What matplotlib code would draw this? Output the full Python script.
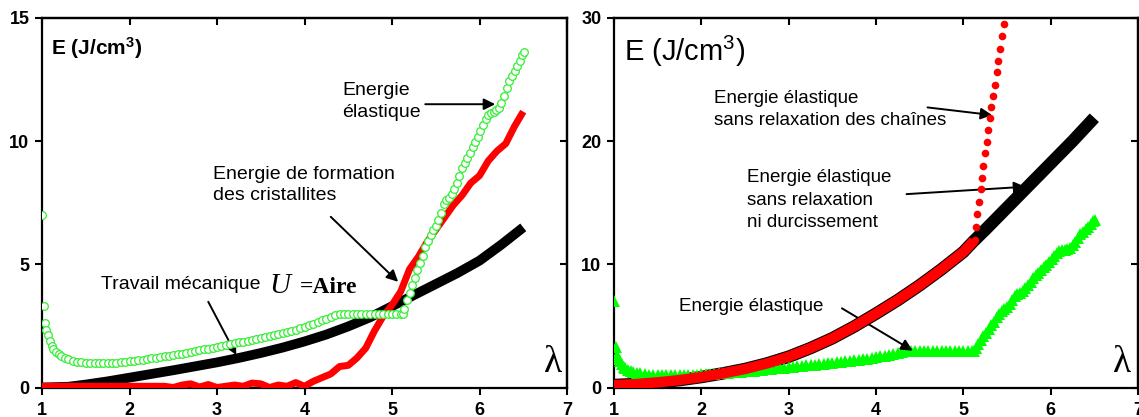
import matplotlib
matplotlib.use('Agg')
import matplotlib.pyplot as plt

plt.rcParams['font.family'] = ['Liberation Sans', 'DejaVu Sans']
plt.rcParams['mathtext.fontset'] = 'custom'
plt.rcParams['mathtext.rm'] = 'Liberation Sans'
plt.rcParams['mathtext.it'] = 'Liberation Sans:italic'
plt.rcParams['mathtext.bf'] = 'Liberation Sans:bold'

# ---------------- data ----------------
x_ticks = [1, 2, 3, 4, 5, 6, 7]
left_yticks = [0, 5, 10, 15]
right_yticks = [0, 10, 20, 30]

# Travail mécanique (left, black)
work_x = [1.0, 1.3, 1.5, 1.75, 2.0, 2.25, 2.5, 2.75, 3.0, 3.25, 3.5, 3.75,
          4.0, 4.25, 4.5, 4.75, 5.0, 5.25, 5.5, 5.75, 6.0, 6.25, 6.5]
work_y = [0.0, 0.03, 0.12, 0.25, 0.40, 0.55, 0.70, 0.86, 1.02, 1.2, 1.4, 1.62,
          1.87, 2.15, 2.48, 2.85, 3.3, 3.75, 4.2, 4.65, 5.15, 5.8, 6.5]

# Energie de formation des cristallites (left, red)
cryst_x = [1.0, 1.5, 2.0, 2.4, 2.5, 2.6, 2.7, 2.8, 2.9, 3.0, 3.1, 3.2, 3.3, 3.4, 3.5,
           3.6, 3.7, 3.8, 3.9, 4.0, 4.1, 4.2, 4.3, 4.4, 4.5, 4.6, 4.7, 4.8, 4.9, 5.0,
           5.1, 5.2, 5.3, 5.4, 5.5, 5.6, 5.7, 5.8, 5.9, 6.0, 6.1, 6.2, 6.3, 6.4, 6.5]
cryst_y = [0.05, 0.05, 0.05, 0.05, 0.0, 0.1, 0.15, 0.02, 0.12, 0.0, 0.05, 0.1, 0.05, 0.18, 0.15,
           0.0, 0.1, 0.05, 0.2, 0.05, 0.25, 0.4, 0.55, 0.85, 0.9, 1.2, 1.6, 2.3, 2.9, 3.35,
           3.9, 4.8, 5.3, 5.9, 6.4, 6.9, 7.4, 7.8, 8.3, 8.6, 9.2, 9.6, 9.9, 10.6, 11.2]

# Energie élastique (both panels, green)
elastic_x = [1.00, 1.02, 1.035, 1.05, 1.07, 1.09, 1.11, 1.13, 1.16, 1.19,
             1.22, 1.26, 1.30, 1.35, 1.40, 1.45, 1.50, 1.55, 1.60, 1.65,
             1.70, 1.75, 1.80, 1.85, 1.90, 1.95, 2.00, 2.05, 2.10, 2.15,
             2.20, 2.25, 2.30, 2.35, 2.40, 2.45, 2.50, 2.55, 2.60, 2.65,
             2.70, 2.75, 2.80, 2.85, 2.90, 2.95, 3.00, 3.05, 3.10, 3.15,
             3.20, 3.25, 3.30, 3.35, 3.40, 3.45, 3.50, 3.55, 3.60, 3.65,
             3.70, 3.75, 3.80, 3.85, 3.90, 3.95, 4.00, 4.05, 4.10, 4.15,
             4.20, 4.25, 4.30, 4.35, 4.40, 4.45, 4.50, 4.55, 4.60, 4.65,
             4.70, 4.75, 4.80, 4.85, 4.90, 4.95, 5.00, 5.05, 5.10, 5.12,
             5.14, 5.17, 5.20, 5.23, 5.26, 5.29, 5.32, 5.35, 5.38, 5.41,
             5.44, 5.47, 5.50, 5.53, 5.56, 5.59, 5.62, 5.65, 5.68, 5.71,
             5.74, 5.77, 5.80, 5.83, 5.86, 5.89, 5.92, 5.95, 5.98, 6.01,
             6.04, 6.07, 6.10, 6.13, 6.16, 6.19, 6.22, 6.25, 6.28, 6.31,
             6.34, 6.37, 6.40, 6.43, 6.46, 6.49, 6.51]
elastic_y = [7.0, 3.3, 2.6, 2.35, 2.15, 1.9, 1.7, 1.58, 1.45, 1.35,
             1.28, 1.2, 1.14, 1.08, 1.04, 1.02, 1.0, 0.99, 0.98, 0.98,
             0.98, 0.99, 1.0, 1.01, 1.03, 1.05, 1.07, 1.09, 1.11, 1.13,
             1.15, 1.18, 1.2, 1.23, 1.26, 1.29, 1.32, 1.35, 1.38, 1.41,
             1.44, 1.48, 1.51, 1.55, 1.58, 1.62, 1.66, 1.69, 1.72, 1.76,
             1.79, 1.83, 1.86, 1.9, 1.94, 1.97, 2.01, 2.05, 2.09, 2.13,
             2.17, 2.21, 2.26, 2.3, 2.35, 2.4, 2.46, 2.52, 2.58, 2.65,
             2.72, 2.8, 2.88, 2.95, 2.97, 2.98, 2.98, 2.98, 2.98, 2.98,
             2.98, 2.98, 2.98, 2.98, 2.98, 2.98, 2.98, 2.98, 2.98, 2.98,
             3.2, 3.55, 3.85, 4.15, 4.45, 4.75, 5.05, 5.35, 5.7, 5.95,
             6.2, 6.4, 6.55, 6.8, 7.1, 7.45, 7.6, 7.7, 7.85, 8.05,
             8.3, 8.6, 8.9, 9.1, 9.3, 9.5, 9.75, 9.95, 10.15, 10.4,
             10.65, 10.9, 11.05, 11.15, 11.2, 11.25, 11.35, 11.55, 11.85, 12.15,
             12.45, 12.65, 12.85, 13.05, 13.25, 13.5, 13.6]

# Energie élastique sans relaxation ni durcissement (right, black)
norelax_x = [1.0, 1.25, 1.5, 1.75, 2.0, 2.25, 2.5, 2.75, 3.0, 3.25, 3.5, 3.75,
             4.0, 4.25, 4.5, 4.75, 5.0, 5.12, 5.25, 5.5, 5.75, 6.0, 6.25, 6.5]
norelax_y = [0.2, 0.28, 0.42, 0.6, 0.85, 1.15, 1.5, 1.95, 2.5, 3.2, 4.0, 4.95,
             6.0, 7.1, 8.3, 9.6, 11.0, 11.9, 12.8, 14.6, 16.4, 18.2, 20.0, 21.9]

# Energie élastique sans relaxation des chaînes (right, red band + dots)
chain_x = [1.0, 1.25, 1.5, 1.75, 2.0, 2.25, 2.5, 2.75, 3.0, 3.25, 3.5, 3.75,
           4.0, 4.25, 4.5, 4.75, 5.0, 5.12]
chain_y = [0.2, 0.28, 0.42, 0.6, 0.85, 1.15, 1.5, 1.95, 2.5, 3.2, 4.0, 4.95,
           6.0, 7.1, 8.3, 9.6, 11.0, 11.9]
chain_dots_x = [5.13, 5.14, 5.16, 5.18, 5.20, 5.21, 5.23, 5.25, 5.27, 5.28,
                5.30, 5.32, 5.34, 5.36, 5.38, 5.40, 5.42, 5.44, 5.46]
chain_dots_y = [12.0, 13.0, 14.1, 15.1, 16.1, 17.0, 18.0, 19.0, 19.9, 20.9,
                21.9, 22.8, 23.7, 24.6, 25.6, 26.5, 27.5, 28.5, 29.5]

# ---------------- figure ----------------
W, H = 1139, 417
fig = plt.figure(figsize=(W / 100, H / 100), dpi=100)
axL = fig.add_axes([42 / W, 29.5 / H, 525 / W, 369.5 / H])
axR = fig.add_axes([614 / W, 29.5 / H, 524 / W, 369.5 / H])


def style(ax, yticks):
    ax.set_xlim(1, 7)
    ax.set_ylim(yticks[0], yticks[-1])
    ax.set_xticks(x_ticks)
    ax.set_yticks(yticks)
    ax.tick_params(direction='out', length=5, width=1.5, labelsize=13)
    ax.tick_params(axis='y', pad=4)
    ax.tick_params(axis='x', pad=5.5)
    for lab in ax.get_xticklabels() + ax.get_yticklabels():
        lab.set_fontweight('bold')
    for s in ax.spines.values():
        s.set_linewidth(1.6)
    top = ax.secondary_xaxis('top')
    top.set_xticks(x_ticks)
    top.tick_params(direction='in', length=5, width=1.5, labeltop=False)
    top.spines['top'].set_linewidth(1.6)
    right = ax.secondary_yaxis('right')
    right.set_yticks(yticks)
    right.tick_params(direction='in', length=5, width=1.5, labelright=False)
    right.spines['right'].set_linewidth(1.6)


arrow_kw = dict(arrowstyle='-|>', color='black', lw=1.4, mutation_scale=17,
                shrinkA=0, shrinkB=0)
txt_kw = dict(fontsize=14, linespacing=1.35)

# ---- left panel ----
axL.plot(work_x, work_y, color='black', lw=7, solid_capstyle='butt', zorder=2)
axL.plot(cryst_x, cryst_y, color='#ff0000', lw=5, solid_capstyle='butt', zorder=3)
axL.plot(elastic_x, elastic_y, linestyle='none', marker='o', markersize=5.5,
         markerfacecolor='white', markeredgecolor='#33ee33', markeredgewidth=0.9, zorder=4)
style(axL, left_yticks)

axL.text(0.017, 0.92, r'E (J/cm$^{\mathbf{3}}$)', transform=axL.transAxes,
         fontsize=15, fontweight='bold', ha='left', va='center')
axL.text(4.43, 12.4, 'Energie\nélastique', ha='left', va='top', **txt_kw)
axL.annotate('', xy=(6.18, 11.5), xytext=(5.38, 11.5), arrowprops=arrow_kw)
axL.text(2.95, 9.0, 'Energie de formation\ndes cristallites', ha='left', va='top', **txt_kw)
axL.annotate('', xy=(5.07, 4.29), xytext=(4.30, 6.93), arrowprops=arrow_kw)
axL.text(1.67, 3.99, 'Travail mécanique', ha='left', va='baseline', fontsize=14)
axL.text(3.60, 3.85, 'U', ha='left', va='baseline', fontsize=21,
         family='Liberation Serif', style='italic')
axL.text(3.95, 3.82, '=Aire', ha='left', va='baseline', fontsize=17,
         family='Liberation Serif', fontweight='bold')
axL.annotate('', xy=(3.22, 1.32), xytext=(2.90, 3.48), arrowprops=arrow_kw)
axL.text(0.973, 0.066, 'λ', transform=axL.transAxes, ha='center', va='center',
         fontsize=27, family='Liberation Serif')

# ---- right panel ----
axR.plot(norelax_x, norelax_y, color='black', lw=9, solid_capstyle='butt', zorder=2)
axR.plot(elastic_x, elastic_y, linestyle='none', marker='^', markersize=8.5,
         color='#00ff00', markeredgewidth=0, zorder=3)
axR.plot(chain_x, chain_y, color='#ff0000', lw=7.5, solid_capstyle='butt', zorder=4)
axR.plot(chain_dots_x, chain_dots_y, linestyle='none', marker='o', markersize=5.5,
         color='#ff0000', markeredgewidth=0, zorder=4)
style(axR, right_yticks)

axR.text(0.019, 0.91, r'E (J/cm$^{3}$)', transform=axR.transAxes,
         fontsize=21, ha='left', va='center')
axR.text(2.14, 24.15, 'Energie élastique\nsans relaxation des chaînes',
         ha='left', va='top', fontsize=13.5, linespacing=1.4)
axR.annotate('', xy=(5.33, 22.12), xytext=(4.59, 22.74), arrowprops=arrow_kw)
axR.text(2.52, 17.7, 'Energie élastique\nsans relaxation\nni durcissement',
         ha='left', va='top', fontsize=13.5, linespacing=1.4)
axR.annotate('', xy=(5.71, 16.3), xytext=(4.35, 15.7), arrowprops=arrow_kw)
axR.text(1.74, 7.25, 'Energie élastique', ha='left', va='top', fontsize=13.5)
axR.annotate('', xy=(4.42, 2.99), xytext=(3.61, 6.43), arrowprops=arrow_kw)
axR.text(0.969, 0.066, 'λ', transform=axR.transAxes, ha='center', va='center',
         fontsize=27, family='Liberation Serif')

fig.savefig('out.png', dpi=100)
